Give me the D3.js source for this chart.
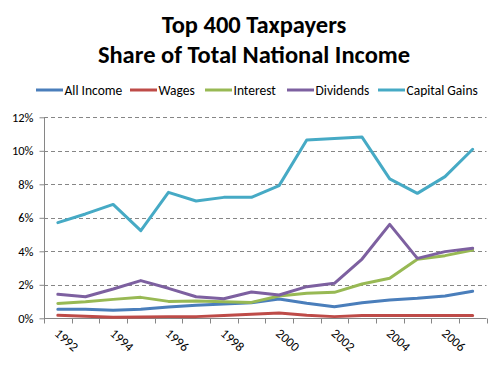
<!DOCTYPE html>
<html><head><meta charset="utf-8">
<script src="https://cdn.jsdelivr.net/npm/d3@7"></script>
<style>body{margin:0;background:#fff}svg{display:block}</style>
</head><body>
<script>
const years = [1992,1993,1994,1995,1996,1997,1998,1999,2000,2001,2002,2003,2004,2005,2006,2007];
const allIncome = [0.54,0.54,0.48,0.54,0.67,0.78,0.85,0.93,1.15,0.90,0.69,0.93,1.09,1.19,1.33,1.61];
const wages = [0.18,0.12,0.06,0.08,0.10,0.10,0.16,0.24,0.31,0.18,0.10,0.17,0.17,0.17,0.17,0.17];
const interest = [0.89,0.99,1.13,1.25,1.01,1.03,0.99,0.95,1.33,1.49,1.55,2.05,2.39,3.52,3.74,4.08];
const dividends = [1.43,1.29,1.75,2.25,1.79,1.29,1.17,1.57,1.39,1.89,2.09,3.54,5.61,3.58,3.98,4.18];
const capitalGains = [5.71,6.23,6.80,5.23,7.52,7.00,7.22,7.22,7.92,10.64,10.74,10.82,8.32,7.46,8.46,10.09];
const yTicks = [0,2,4,6,8,10,12];
const xLabels = [1992,1994,1996,1998,2000,2002,2004,2006];
const seriesNames = ["All Income","Wages","Interest","Dividends","Capital Gains"];
const colors = ["#4A7EBB","#BE4B48","#98B954","#7D60A0","#46AAC5"];
const titleLines = ["Top 400 Taxpayers","Share of Total National Income"];

const W=489,H=376;
const svg=d3.select("body").append("svg").attr("width",W).attr("height",H);
const font="Calibri, Carlito, Lato, 'Liberation Sans', sans-serif";

const x=d3.scaleBand().domain(years).range([44,486.5]);
const y=d3.scaleLinear().domain([0,12]).range([318.3,117.3]);

// title
svg.append("g").selectAll("text").data(titleLines).join("text")
  .attr("x",254).attr("y",(d,i)=>33+i*29.5)
  .attr("text-anchor","middle").attr("font-family",font).attr("font-weight","bold")
  .attr("font-size",24.5).attr("fill","#000").text(d=>d);

// gridlines
svg.append("g").selectAll("line").data(yTicks.filter(d=>d>0)).join("line")
  .attr("x1",44).attr("x2",486.5).attr("y1",d=>Math.round(y(d))+0.5).attr("y2",d=>Math.round(y(d))+0.5)
  .attr("stroke","#868686").attr("stroke-width",1).attr("stroke-dasharray","4,3");

// y axis
const yAxis=d3.axisLeft(y).tickValues(yTicks).tickFormat(d=>d+"%").tickSize(5).tickPadding(6);
const gy=svg.append("g").attr("transform","translate(44.5,0)").call(yAxis);
gy.select(".domain").attr("stroke","#868686").attr("d","M0,"+y(12)+"V"+y(0));
gy.selectAll(".tick line").attr("stroke","#868686");
gy.selectAll(".tick text").attr("font-family",font).attr("font-size",12.5).attr("fill","#000");

// x axis
const gx=svg.append("g").attr("transform","translate(0,"+(Math.round(y(0))+0.5)+")");
gx.append("line").attr("x1",44).attr("x2",486.5).attr("stroke","#868686");
const bounds=years.map(d=>x(d)).concat([x.range()[1]]);
gx.selectAll("line.t").data(bounds).join("line").attr("class","t")
  .attr("x1",d=>Math.round(d)+0.5).attr("x2",d=>Math.round(d)+0.5).attr("y1",0).attr("y2",5).attr("stroke","#868686");
gx.selectAll("text").data(xLabels).join("text")
  .attr("transform",d=>"translate("+(x(d)+x.bandwidth()/2-4)+",16) rotate(42)")
  .attr("font-family",font).attr("font-size",13).attr("fill","#000").text(d=>d);

// lines
const allSeries=[allIncome,wages,interest,dividends,capitalGains];
const line=d3.line().x((d,i)=>x(years[i])+x.bandwidth()/2).y(d=>y(d));
svg.append("g").selectAll("path").data(allSeries).join("path")
  .attr("d",line).attr("fill","none").attr("stroke",(d,i)=>colors[i])
  .attr("stroke-width",3).attr("stroke-linejoin","round").attr("stroke-linecap","round");

// legend
const legX=[36,130,205,287,378];
const lg=svg.append("g").selectAll("g").data(seriesNames).join("g")
  .attr("transform",(d,i)=>"translate("+legX[i]+",90)");
lg.append("line").attr("x1",0).attr("x2",27).attr("stroke",(d,i)=>colors[i]).attr("stroke-width",3);
lg.append("text").attr("x",28.5).attr("y",4.5).attr("font-family",font).attr("font-size",13.5).attr("fill","#000").text(d=>d);
</script>
</body></html>
